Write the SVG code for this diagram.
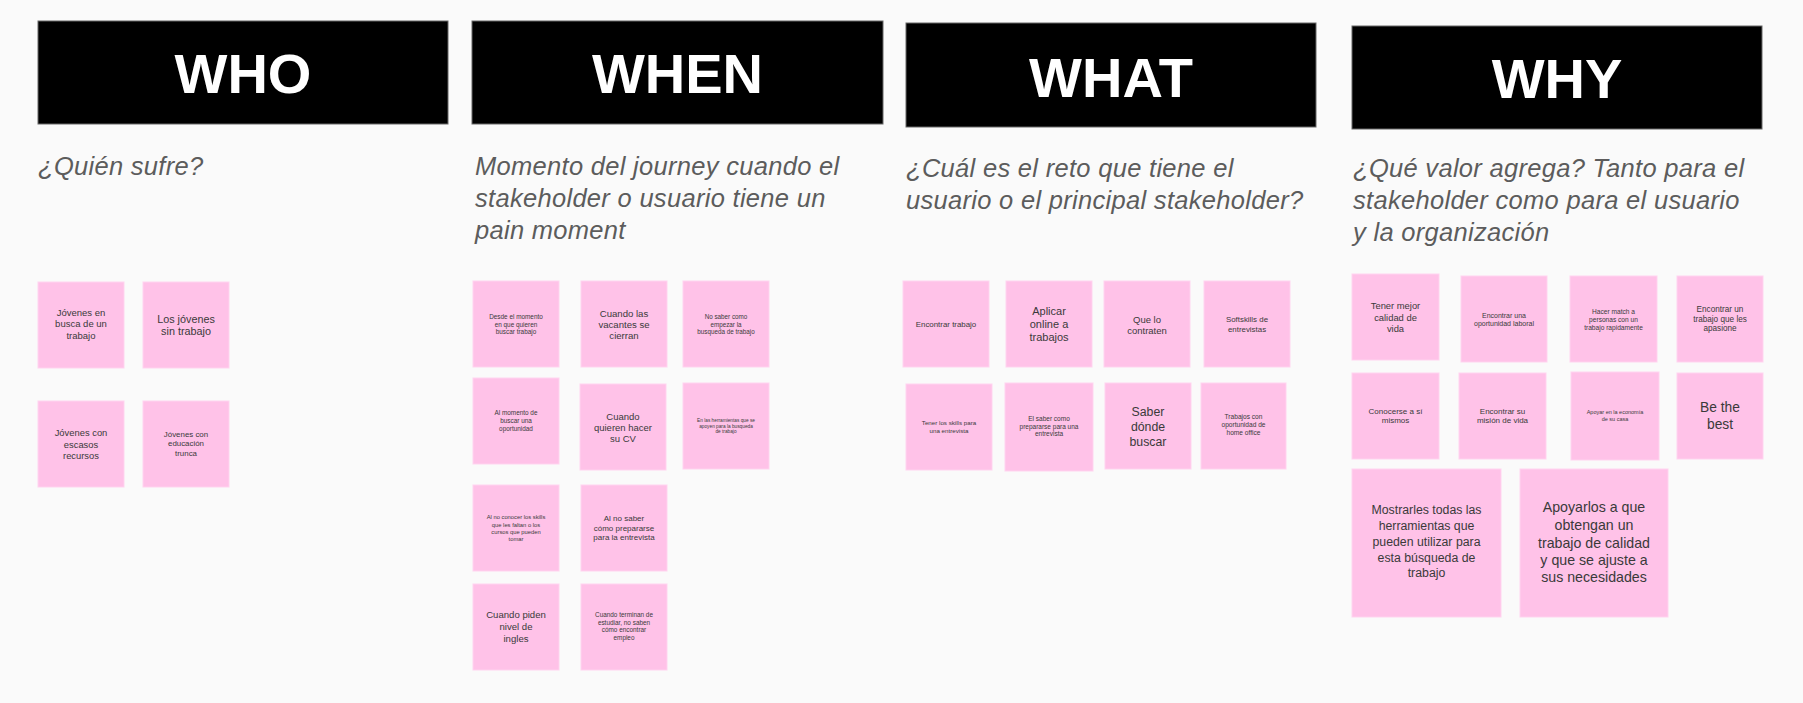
<svg xmlns="http://www.w3.org/2000/svg" width="1803" height="703" viewBox="0 0 1803 703">
<style>
.bg{fill:#fafafa}
.hdr{fill:#000;stroke:#666;stroke-width:1}
.ht{font-family:"Liberation Sans",Arial,sans-serif;font-weight:bold;font-size:56px;fill:#fff;text-anchor:middle}
.sub{font-family:"Liberation Sans",Arial,sans-serif;font-style:italic;font-size:25.5px;fill:#5c5c5c;letter-spacing:0.3px}
.note{fill:#ffc2e8;stroke:#ffd3ef;stroke-width:1}
.nt{font-family:"Liberation Sans",Arial,sans-serif;fill:#3a3a3a;text-anchor:middle}
</style>
<rect class="bg" x="0" y="0" width="1803" height="703"/>

<g id="header-who"><rect class="hdr" x="38" y="21" width="410" height="103"/><text class="ht" x="243" y="93">WHO</text></g>
<g id="header-when"><rect class="hdr" x="472" y="21" width="411" height="103"/><text class="ht" x="677.5" y="93">WHEN</text></g>
<g id="header-what"><rect class="hdr" x="906" y="23" width="410" height="104"/><text class="ht" x="1111" y="97">WHAT</text></g>
<g id="header-why"><rect class="hdr" x="1352" y="26" width="410" height="103"/><text class="ht" x="1557" y="98">WHY</text></g>

<g id="sub-who"><text class="sub" x="38" y="175">¿Quién sufre?</text></g>
<g id="sub-when"><text class="sub" x="475" y="175">Momento del journey cuando el</text><text class="sub" x="475" y="207">stakeholder o usuario tiene un</text><text class="sub" x="475" y="239">pain moment</text></g>
<g id="sub-what"><text class="sub" x="906" y="177">¿Cuál es el reto que tiene el</text><text class="sub" x="906" y="209">usuario o el principal stakeholder?</text></g>
<g id="sub-why"><text class="sub" x="1353" y="177">¿Qué valor agrega? Tanto para el</text><text class="sub" x="1353" y="209">stakeholder como para el usuario</text><text class="sub" x="1353" y="241">y la organización</text></g>

<g id="connectors"></g>

<!-- WHO -->
<g id="who-1"><rect class="note" x="38" y="282" width="86" height="86"/><text class="nt" font-size="9.5"><tspan x="81" y="316">Jóvenes en</tspan><tspan x="81" y="327">busca de un</tspan><tspan x="81" y="339">trabajo</tspan></text></g>
<g id="who-2"><rect class="note" x="143" y="282" width="86" height="86"/><text class="nt" font-size="10.8"><tspan x="186" y="323">Los jóvenes</tspan><tspan x="186" y="335">sin trabajo</tspan></text></g>
<g id="who-3"><rect class="note" x="38" y="401" width="86" height="86"/><text class="nt" font-size="9.4"><tspan x="81" y="435.5">Jóvenes con</tspan><tspan x="81" y="447.5">escasos</tspan><tspan x="81" y="458.5">recursos</tspan></text></g>
<g id="who-4"><rect class="note" x="143" y="401" width="86" height="86"/><text class="nt" font-size="7.9"><tspan x="186" y="437">Jóvenes con</tspan><tspan x="186" y="446">educación</tspan><tspan x="186" y="456">trunca</tspan></text></g>

<!-- WHEN -->
<g id="when-1"><rect class="note" x="473" y="281" width="86" height="86"/><text class="nt" font-size="6.4"><tspan x="516" y="319">Desde el momento</tspan><tspan x="516" y="326.5">en  que quieren</tspan><tspan x="516" y="334">buscar trabajo</tspan></text></g>
<g id="when-2"><rect class="note" x="581" y="281" width="86" height="86"/><text class="nt" font-size="9.6"><tspan x="624" y="316.5">Cuando las</tspan><tspan x="624" y="327.5">vacantes se</tspan><tspan x="624" y="338.5">cierran</tspan></text></g>
<g id="when-3"><rect class="note" x="683" y="281" width="86" height="86"/><text class="nt" font-size="6.3"><tspan x="726" y="319">No saber como</tspan><tspan x="726" y="326.5">empezar la</tspan><tspan x="726" y="334">busqueda de trabajo</tspan></text></g>
<g id="when-4"><rect class="note" x="473" y="378" width="86" height="86"/><text class="nt" font-size="6.4"><tspan x="516" y="415">Al momento de</tspan><tspan x="516" y="423">buscar una</tspan><tspan x="516" y="431">oportunidad</tspan></text></g>
<g id="when-5"><rect class="note" x="580" y="384" width="86" height="86"/><text class="nt" font-size="9.5"><tspan x="623" y="419.5">Cuando</tspan><tspan x="623" y="430.5">quieren hacer</tspan><tspan x="623" y="441.5">su CV</tspan></text></g>
<g id="when-6"><rect class="note" x="683" y="383" width="86" height="86"/><text class="nt" font-size="4.75"><tspan x="726" y="421.5">En las herramientas que se</tspan><tspan x="726" y="427.5">apoyen para la busqueda</tspan><tspan x="726" y="433">de trabajo</tspan></text></g>
<g id="when-7"><rect class="note" x="473" y="485" width="86" height="86"/><text class="nt" font-size="5.8"><tspan x="516" y="519">Al no conocer los skills</tspan><tspan x="516" y="526.5">que les faltan o los</tspan><tspan x="516" y="533.5">cursos que pueden</tspan><tspan x="516" y="540.5">tomar</tspan></text></g>
<g id="when-8"><rect class="note" x="581" y="485" width="86" height="86"/><text class="nt" font-size="8"><tspan x="624" y="521">Al no saber</tspan><tspan x="624" y="530.5">cómo prepararse</tspan><tspan x="624" y="540">para la entrevista</tspan></text></g>
<g id="when-9"><rect class="note" x="473" y="584" width="86" height="86"/><text class="nt" font-size="9.6"><tspan x="516" y="617.5">Cuando piden</tspan><tspan x="516" y="629.5">nivel de</tspan><tspan x="516" y="641.5">ingles</tspan></text></g>
<g id="when-10"><rect class="note" x="581" y="584" width="86" height="86"/><text class="nt" font-size="6.4"><tspan x="624" y="617">Cuando terminan de</tspan><tspan x="624" y="624.5">estudiar, no saben</tspan><tspan x="624" y="632">cómo  encontrar</tspan><tspan x="624" y="640">empleo</tspan></text></g>

<!-- WHAT -->
<g id="what-1"><rect class="note" x="903" y="281" width="86" height="86"/><text class="nt" font-size="7.9"><tspan x="946" y="327">Encontrar trabajo</tspan></text></g>
<g id="what-2"><rect class="note" x="1006" y="281" width="86" height="86"/><text class="nt" font-size="11"><tspan x="1049" y="315">Aplicar</tspan><tspan x="1049" y="328">online a</tspan><tspan x="1049" y="341">trabajos</tspan></text></g>
<g id="what-3"><rect class="note" x="1104" y="281" width="86" height="86"/><text class="nt" font-size="9.5"><tspan x="1147" y="322.5">Que lo</tspan><tspan x="1147" y="333.5">contraten</tspan></text></g>
<g id="what-4"><rect class="note" x="1204" y="281" width="86" height="86"/><text class="nt" font-size="7.9"><tspan x="1247" y="322">Softskills de</tspan><tspan x="1247" y="332">entrevistas</tspan></text></g>
<g id="what-5"><rect class="note" x="906" y="384" width="86" height="86"/><text class="nt" font-size="6.2"><tspan x="949" y="425">Tener los skills para</tspan><tspan x="949" y="433">una entrevista</tspan></text></g>
<g id="what-6"><rect class="note" x="1005" y="383" width="88" height="88"/><text class="nt" font-size="6.5"><tspan x="1049" y="421">El saber como</tspan><tspan x="1049" y="428.5">prepararse para una</tspan><tspan x="1049" y="436">entrevista</tspan></text></g>
<g id="what-7"><rect class="note" x="1105" y="383" width="86" height="86"/><text class="nt" font-size="12.3"><tspan x="1148" y="415.5">Saber</tspan><tspan x="1148" y="430.5">dónde</tspan><tspan x="1148" y="445.5">buscar</tspan></text></g>
<g id="what-8"><rect class="note" x="1201" y="383" width="85" height="86"/><text class="nt" font-size="6.6"><tspan x="1243.5" y="419">Trabajos con</tspan><tspan x="1243.5" y="427">oportunidad de</tspan><tspan x="1243.5" y="435">home office</tspan></text></g>

<!-- WHY -->
<g id="why-1"><rect class="note" x="1352" y="274" width="87" height="86"/><text class="nt" font-size="9.4"><tspan x="1395.5" y="308.5">Tener mejor</tspan><tspan x="1395.5" y="320.5">calidad de</tspan><tspan x="1395.5" y="331.5">vida</tspan></text></g>
<g id="why-2"><rect class="note" x="1461" y="276" width="86" height="86"/><text class="nt" font-size="7"><tspan x="1504" y="317.5">Encontrar una</tspan><tspan x="1504" y="325.5">oportunidad laboral</tspan></text></g>
<g id="why-3"><rect class="note" x="1570" y="276" width="87" height="86"/><text class="nt" font-size="6.6"><tspan x="1613.5" y="313.5">Hacer match a</tspan><tspan x="1613.5" y="321.5">personas con  un</tspan><tspan x="1613.5" y="329.5">trabajo rapidamente</tspan></text></g>
<g id="why-4"><rect class="note" x="1677" y="276" width="86" height="86"/><text class="nt" font-size="8.2"><tspan x="1720" y="312">Encontrar un</tspan><tspan x="1720" y="321.5">trabajo que les</tspan><tspan x="1720" y="331">apasione</tspan></text></g>
<g id="why-5"><rect class="note" x="1352" y="373" width="87" height="86"/><text class="nt" font-size="8"><tspan x="1395.5" y="414">Conocerse a sí</tspan><tspan x="1395.5" y="423">mismos</tspan></text></g>
<g id="why-6"><rect class="note" x="1459" y="373" width="87" height="86"/><text class="nt" font-size="8"><tspan x="1502.5" y="414">Encontrar su</tspan><tspan x="1502.5" y="423">misión de vida</tspan></text></g>
<g id="why-7"><rect class="note" x="1571" y="372" width="88" height="88"/><text class="nt" font-size="5.5"><tspan x="1615" y="414">Apoyar en la economía</tspan><tspan x="1615" y="421">de su casa</tspan></text></g>
<g id="why-8"><rect class="note" x="1677" y="373" width="86" height="86"/><text class="nt" font-size="13.8"><tspan x="1720" y="412">Be the</tspan><tspan x="1720" y="429">best</tspan></text></g>
<g id="why-9"><rect class="note" x="1352" y="469" width="149" height="148"/><text class="nt" font-size="12.3"><tspan x="1426.5" y="514">Mostrarles todas las</tspan><tspan x="1426.5" y="530">herramientas que</tspan><tspan x="1426.5" y="546">pueden utilizar para</tspan><tspan x="1426.5" y="561.5">esta búsqueda de</tspan><tspan x="1426.5" y="577">trabajo</tspan></text></g>
<g id="why-10"><rect class="note" x="1520" y="469" width="148" height="148"/><text class="nt" font-size="14.2"><tspan x="1594" y="512">Apoyarlos a que</tspan><tspan x="1594" y="530">obtengan un</tspan><tspan x="1594" y="548">trabajo de calidad</tspan><tspan x="1594" y="565">y que se ajuste a</tspan><tspan x="1594" y="582">sus necesidades</tspan></text></g>
</svg>
